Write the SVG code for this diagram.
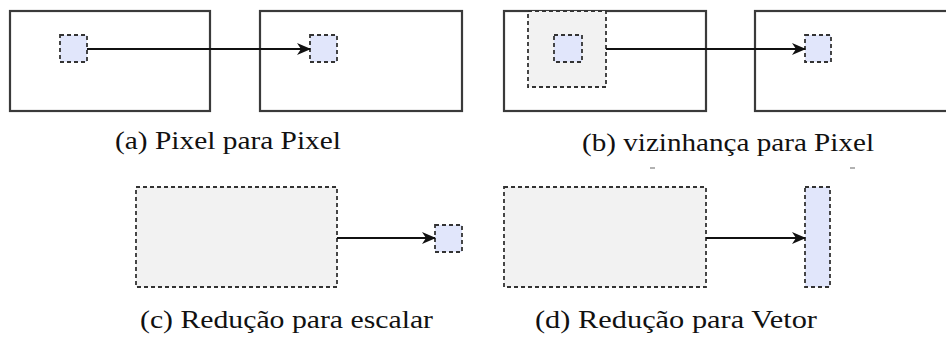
<svg xmlns="http://www.w3.org/2000/svg" width="946" height="341" viewBox="0 0 946 341">
  <defs>
    <marker id="arrow" viewBox="0 0 14 14" refX="13" refY="7" markerWidth="14" markerHeight="14" markerUnits="userSpaceOnUse" orient="auto">
      <path d="M0,1 L14,7 L0,13 L4,7 Z" fill="#111"/>
    </marker>
  </defs>
  <style>
    .frame { fill: #ffffff; stroke: #3a3a3a; stroke-width: 2.2; }
    .region { fill: #f2f2f2; stroke: #333; stroke-width: 1.8; stroke-dasharray: 4 3; }
    .pixel { fill: #e1e6fb; stroke: #333; stroke-width: 1.8; stroke-dasharray: 4 3; }
    .link { stroke: #111; stroke-width: 2; fill: none; marker-end: url(#arrow); }
    .caption { font-size: 25px; fill: #111; }
    .tick { stroke: #999; stroke-width: 1.5; }
  </style>
  <rect width="946" height="341" fill="#ffffff"/>

  <!-- (a) pixel to pixel -->
  <g id="a-source">
    <rect class="frame" x="10" y="11" width="200" height="100"/>
    <rect class="pixel" x="60" y="35" width="27" height="27"/>
  </g>
  <g id="a-target">
    <rect class="frame" x="260" y="11" width="202" height="100"/>
    <rect class="pixel" x="310" y="35" width="27" height="27"/>
  </g>
  <g id="a-caption">
    <text class="caption" font-family="'Liberation Serif', serif" x="115" y="149" textLength="226" lengthAdjust="spacingAndGlyphs">(a) Pixel para Pixel</text>
  </g>

  <!-- (b) neighbourhood to pixel -->
  <g id="b-source">
    <rect class="frame" x="504" y="11" width="202" height="100"/>
    <rect class="region" x="528" y="11" width="78" height="76"/>
    <rect class="pixel" x="554" y="35" width="28" height="27"/>
  </g>
  <g id="b-target">
    <rect class="frame" x="755" y="11" width="200" height="100"/>
    <rect class="pixel" x="805" y="35" width="26" height="27"/>
  </g>
  <g id="b-caption">
    <text class="caption" font-family="'Liberation Serif', serif" x="582" y="151" textLength="292" lengthAdjust="spacingAndGlyphs">(b) vizinhança para Pixel</text>
    <line class="tick" x1="650" y1="168" x2="655" y2="168"/>
    <line class="tick" x1="850" y1="168" x2="855" y2="168"/>
  </g>

  <!-- (c) reduction to scalar -->
  <g id="c-source">
    <rect class="region" x="136" y="187" width="201" height="100"/>
  </g>
  <g id="c-target">
    <rect class="pixel" x="435" y="225" width="27" height="27"/>
  </g>
  <g id="c-caption">
    <text class="caption" font-family="'Liberation Serif', serif" x="140" y="328" textLength="293" lengthAdjust="spacingAndGlyphs">(c) Redução para escalar</text>
  </g>

  <!-- (d) reduction to vector -->
  <g id="d-source">
    <rect class="region" x="504" y="187" width="202" height="100"/>
  </g>
  <g id="d-target">
    <rect class="pixel" x="805" y="187" width="25" height="100"/>
  </g>
  <g id="d-caption">
    <text class="caption" font-family="'Liberation Serif', serif" x="535" y="328" textLength="282" lengthAdjust="spacingAndGlyphs">(d) Redução para Vetor</text>
  </g>

  <g id="connectors">
    <line class="link" x1="87" y1="49" x2="310" y2="49"/>
    <line class="link" x1="606" y1="49" x2="805" y2="49"/>
    <line class="link" x1="337" y1="238" x2="435" y2="238"/>
    <line class="link" x1="706" y1="238" x2="805" y2="238"/>
  </g>
</svg>
